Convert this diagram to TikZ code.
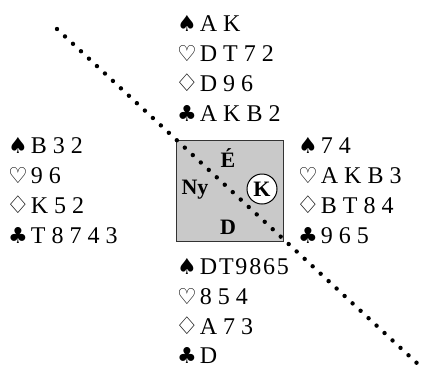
\documentclass[tikz,border=0pt]{standalone}
\usepackage{graphicx}
\usepackage{fontspec}
\setmainfont{Liberation Serif}
\newfontfamily\suitfont{DejaVu Sans}
\newcommand\suitsym[1]{{\suitfont\fontsize{22}{22}\selectfont #1}\kern3pt}
\newcommand\SSp{\suitsym{♠}}
\newcommand\SHe{\suitsym{♡}}
\newcommand\SDi{\kern-2.5pt\suitsym{\scalebox{1.25}[1.1]{♢}\kern-2.5pt}}
\newcommand\SCl{\suitsym{♣}}
\newcommand\tk{\kern1.8pt}
\begin{document}
\begin{tikzpicture}[x=1pt,y=-1pt,
  hand/.style={anchor=base west,inner sep=0pt,font=\fontsize{24}{24}\selectfont},
  seat/.style={inner sep=0pt,font=\fontsize{22}{22}\selectfont\bfseries},
  tablebox/.style={draw=black!80,line width=1.4pt,fill=black!21},
  dotline/.style={line width=4.4pt,line cap=round,dash pattern=on 0pt off 10.9pt}]
\useasboundingbox (0,0) rectangle (426,368);
% table
\node[tablebox,minimum width=107pt,minimum height=101pt,anchor=north west] (tab) at (176,140) {};
\coordinate (ls) at (57,29);
\coordinate (le) at (419,365);
\draw[dotline] (ls) -- (le);
\node[seat] (n) at (228,158) {É};
\node[seat] (w) at (195,190) {Ny};
\node[seat] (s) at (228,227) {D};
\node[seat,draw,fill=white,circle,line width=1pt,minimum size=30pt] (e) at (262,189) {K};
% North
\node[hand] (n1) at (177,31) {\SSp A K};
\node[hand] (n2) at (177,61) {\SHe D T 7 2};
\node[hand] (n3) at (177,91) {\SDi D 9 6};
\node[hand] (n4) at (177,121) {\SCl A K B 2};
% West
\node[hand] (w1) at (8,153) {\SSp B 3 2};
\node[hand] (w2) at (8,183) {\SHe 9 6};
\node[hand] (w3) at (8,213) {\SDi K 5 2};
\node[hand] (w4) at (8,243) {\SCl T 8 7 4 3};
% East
\node[hand] (e1) at (298,153) {\SSp 7 4};
\node[hand] (e2) at (298,183) {\SHe A K B 3};
\node[hand] (e3) at (298,213) {\SDi B T 8 4};
\node[hand] (e4) at (298,243) {\SCl 9 6 5};
% South
\node[hand] (s1) at (177,274) {\SSp D\tk T\tk 9\tk 8\tk 6\tk 5};
\node[hand] (s2) at (177,304) {\SHe 8 5 4};
\node[hand] (s3) at (177,334) {\SDi A 7 3};
\node[hand] (s4) at (177,363) {\SCl D};
\end{tikzpicture}
\end{document}
